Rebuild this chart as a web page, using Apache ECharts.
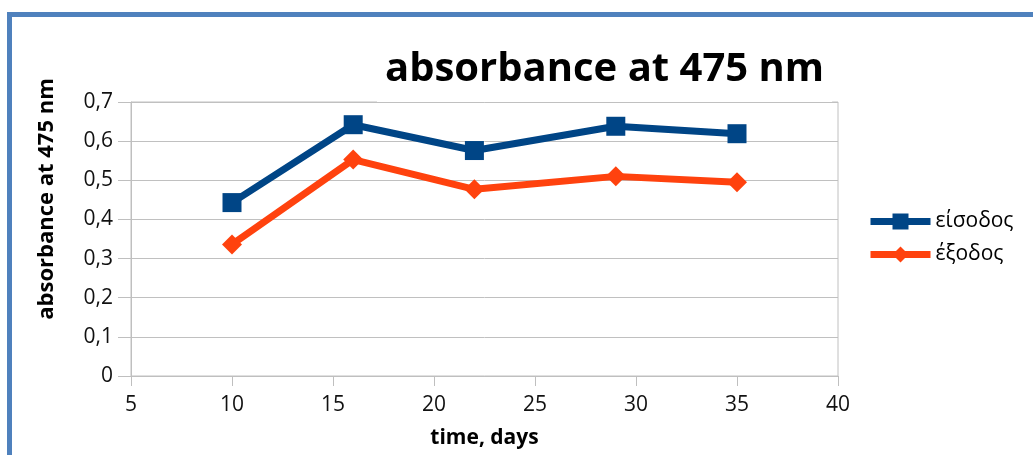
<!DOCTYPE html>
<html>
<head>
<meta charset="utf-8">
<script src="https://cdn.jsdelivr.net/npm/echarts@6/dist/echarts.min.js"></script>
<style>
  html, body { margin: 0; padding: 0; background: #fff; overflow: hidden; }
  #frame { position: absolute; left: 7px; top: 12px; width: 1100px; height: 520px;
           border: 5px solid #4f81bd; box-sizing: border-box; }
  #chart { position: absolute; left: 0; top: 0; width: 1033px; height: 455px; }
</style>
</head>
<body>
<div id="frame"></div>
<div id="chart"></div>
<script>
// Sampling days and absorbance readings at 475 nm
const days = [10, 16, 22, 29, 35];
const inlet = [0.443, 0.642, 0.576, 0.638, 0.619];   // είσοδος
const outlet = [0.336, 0.553, 0.477, 0.510, 0.495];  // έξοδος
const seriesNames = ['είσοδος', 'έξοδος'];
const yTitle = 'absorbance at 475 nm';

const font = '"Open Sans", "Noto Sans", sans-serif';
const pair = (xs, ys) => xs.map((x, i) => [x, ys[i]]);
const comma = v => String(Math.round(v * 10) / 10).replace('.', ',');

const chart = echarts.init(document.getElementById('chart'), null, { renderer: 'canvas' });
chart.setOption({
  animation: false,
  backgroundColor: 'transparent',
  title: {
    text: 'absorbance at 475 nm',
    left: 377, top: 46,
    padding: [4, 8, 12, 8],
    backgroundColor: '#fff',
    textStyle: { fontFamily: font, fontWeight: 'bold', fontSize: 40, color: '#000' }
  },
  legend: {
    orient: 'vertical',
    left: 862, top: 206,
    itemWidth: 60, itemHeight: 20, itemGap: 12,
    lineStyle: { width: 7 },
    textStyle: { fontFamily: font, fontSize: 21, color: '#000' },
    data: seriesNames
  },
  // vertical axis title, centred on the chart's height rather than the plot's
  graphic: [{
    type: 'text', x: 47, y: 199, rotation: Math.PI / 2,
    style: {
      text: yTitle, align: 'center', verticalAlign: 'middle',
      font: 'bold 22px ' + font, fill: '#000'
    }
  }],
  grid: { left: 131, right: 195, top: 102, bottom: 79, show: true, borderColor: '#c0c0c0', borderWidth: 1 },
  xAxis: {
    type: 'value', min: 5, max: 40, interval: 5,
    name: 'time, days', nameLocation: 'middle', nameGap: 52,
    nameTextStyle: { fontFamily: font, fontWeight: 'bold', fontSize: 21, color: '#000' },
    axisLine: { lineStyle: { color: '#bfbfbf', width: 1 } },
    axisTick: { show: true, length: 10, lineStyle: { color: '#bfbfbf' } },
    axisLabel: { fontFamily: font, fontSize: 21, color: '#111', margin: 19 },
    splitLine: { show: false }
  },
  yAxis: {
    type: 'value', min: 0, max: 0.7, interval: 0.1,
    axisLine: { show: true, lineStyle: { color: '#bfbfbf', width: 1 } },
    axisTick: { show: true, length: 13, lineStyle: { color: '#bfbfbf' } },
    axisLabel: { fontFamily: font, fontSize: 21, color: '#111', margin: 18, formatter: comma },
    splitLine: { show: true, lineStyle: { color: '#c0c0c0', width: 1 } }
  },
  series: [
    {
      name: seriesNames[0], type: 'line', data: pair(days, inlet),
      symbol: 'rect', symbolSize: 19,
      lineStyle: { color: '#004586', width: 7 },
      itemStyle: { color: '#004586' }
    },
    {
      name: seriesNames[1], type: 'line', data: pair(days, outlet),
      symbol: 'diamond', symbolSize: 20,
      lineStyle: { color: '#ff420e', width: 7 },
      itemStyle: { color: '#ff420e' }
    }
  ]
});
</script>
</body>
</html>
